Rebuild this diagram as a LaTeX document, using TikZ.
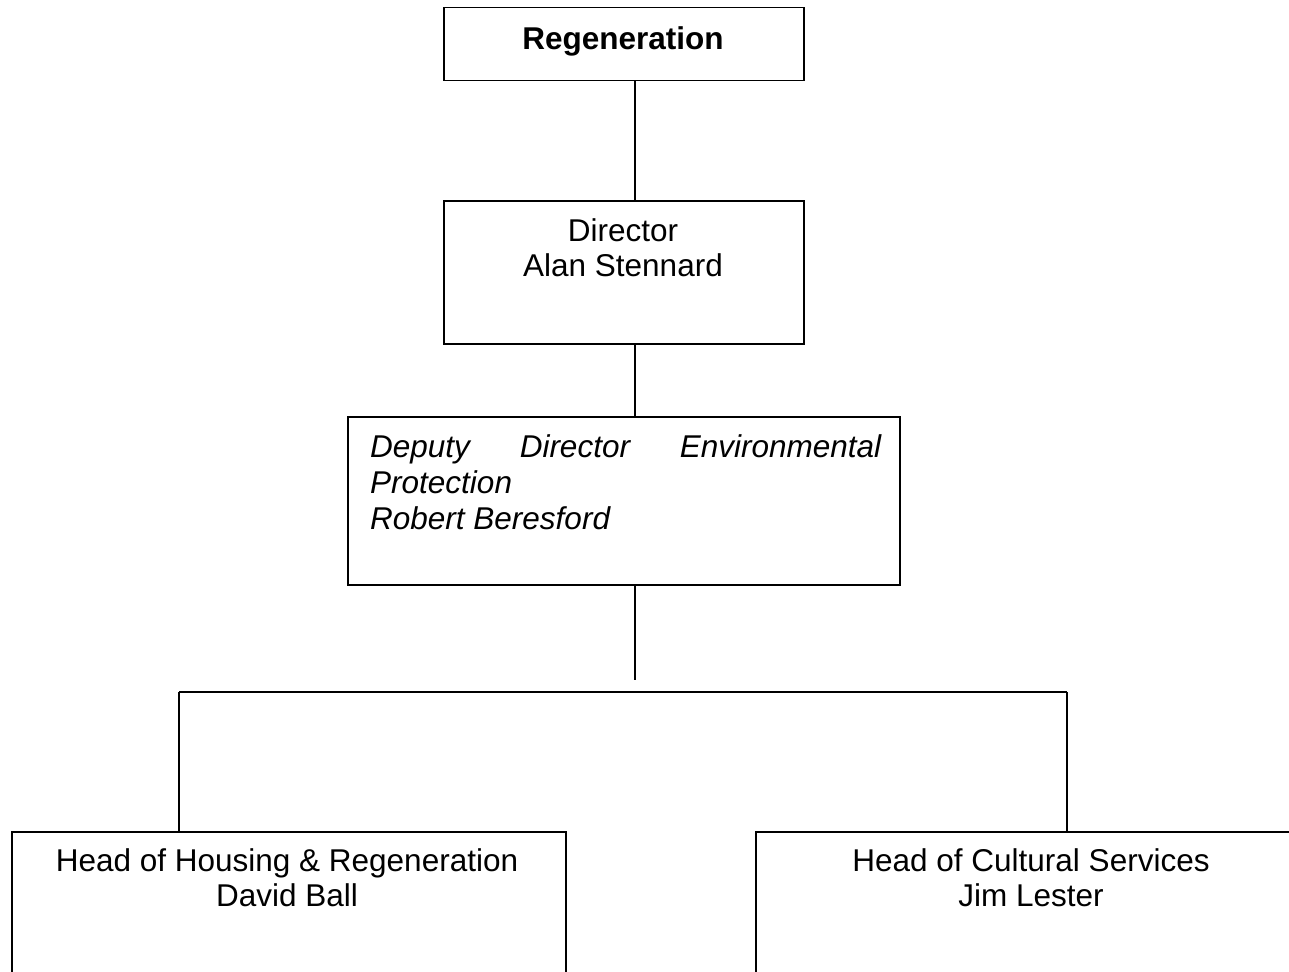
\documentclass[tikz,border=0pt]{standalone}
\usepackage{fontspec}
\setmainfont{Liberation Sans}
\begin{document}
\begin{tikzpicture}[x=1pt,y=-1pt,
  box/.style={draw,line width=1.5pt,minimum width=#1,inner sep=0pt,anchor=north west},
  txt/.style={font=\fontsize{31.5}{36}\selectfont,anchor=base,inner sep=0pt},
  conn/.style={line width=1.5pt}]
\useasboundingbox (0,0) rectangle (1289,971);
\clip (0,0) rectangle (1289,971);
\fill[white] (0,0) rectangle (1289,971);
% boxes
\node[box=360pt,minimum height=73pt] (reg) at (443,7) {};
\node[box=360pt,minimum height=143pt] (dir) at (443,200) {};
\node[box=552pt,minimum height=168pt] (dep) at (347,416) {};
\node[box=554pt,minimum height=200pt] (hou) at (11,831) {};
\node[box=560pt,minimum height=200pt] (cul) at (755,831) {};
% texts
\node[txt,font=\fontsize{31.5}{36}\selectfont\bfseries] (tReg) at (623,49.5) {Regeneration};
\node[txt] (tDir1) at (623,241) {Director};
\node[txt] (tDir2) at (623,276) {Alan Stennard};
\node[txt,anchor=base west,text width=511pt,font=\fontsize{31.5}{36}\selectfont\itshape] (tDep1) at (370,457) {Deputy\hfill Director\hfill Environmental};
\node[txt,anchor=base west,font=\fontsize{31.5}{36}\selectfont\itshape] (tDep2) at (370,493) {Protection};
\node[txt,anchor=base west,font=\fontsize{31.5}{36}\selectfont\itshape] (tDep3) at (370,529) {Robert Beresford};
\node[txt] (tHou1) at (287,871) {Head of Housing \& Regeneration};
\node[txt] (tHou2) at (287,906) {David Ball};
\node[txt] (tCul1) at (1031,871) {Head of Cultural Services};
\node[txt] (tCul2) at (1031,906) {Jim Lester};
% connectors
\coordinate (stub) at (635,680);
\coordinate (hl) at (179,692);
\coordinate (hr) at (1067,692);
\draw[conn] (reg.south -| stub) -- (dir.north -| stub);
\draw[conn] (dir.south -| stub) -- (dep.north -| stub);
\draw[conn] (dep.south -| stub) -- (stub);
\draw[conn] (hl) -- (hr);
\draw[conn] (hl) -- (hl |- hou.north);
\draw[conn] (hr) -- (hr |- cul.north);
\end{tikzpicture}
\end{document}
